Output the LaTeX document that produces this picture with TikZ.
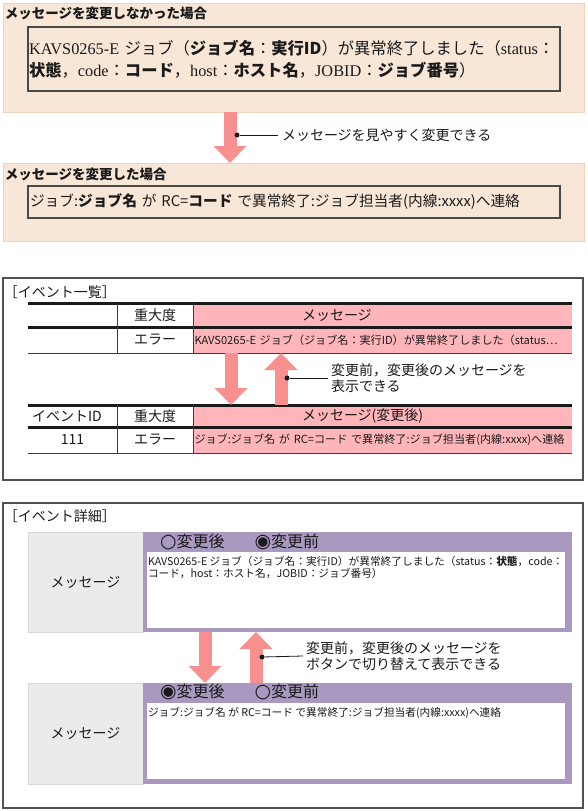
\documentclass[tikz,border=0pt]{standalone}
\usepackage{fontspec}
\setmainfont{Noto Sans CJK JP}
\newfontfamily\latinserif{Liberation Serif}
\newfontfamily\symfont{DejaVu Sans}
\usetikzlibrary{arrows.meta,positioning,calc}
\definecolor{beige}{HTML}{F8E6D7}
\definecolor{beigeline}{HTML}{F1D3BA}
\definecolor{salmon}{HTML}{F89090}
\definecolor{rowpink}{HTML}{FFB5B9}
\definecolor{lilac}{HTML}{A999C1}
\definecolor{cellgray}{HTML}{EBEBEB}
\definecolor{cellline}{HTML}{D9D9D9}
\definecolor{framegray}{HTML}{505050}
\definecolor{ink}{HTML}{1A1A1A}
\tikzset{
  >=Latex,
  every node/.style={text=ink,inner sep=0pt,outer sep=0pt},
  panel/.style={draw=beigeline,fill=beige,line width=1pt,anchor=north west},
  framebox/.style={draw=framegray,line width=1.2pt,anchor=north west},
  msgbox/.style={draw=ink!80,line width=1.2pt,anchor=north west,align=left},
  heading/.style={anchor=west,font=\fontsize{13.5}{16}\selectfont\bfseries},
  caption/.style={anchor=west,inner xsep=4pt,font=\fontsize{14}{16}\selectfont},
  callout/.style={anchor=west,align=left,inner xsep=3pt,font=\fontsize{14}{16.5}\selectfont},
  cell/.style={anchor=north west,font=\fontsize{14}{16}\selectfont},
  pinkcell/.style={cell,fill=rowpink},
  headtext/.style={text width=379pt,align=left},
  rowtext/.style={text width=376pt,inner xsep=1.5pt,align=left,font=\fontsize{11.1}{13}\selectfont},
  grayhead/.style={draw=cellline,fill=cellgray,anchor=north west,font=\fontsize{14}{16}\selectfont},
  lilacpane/.style={fill=lilac,anchor=north west},
  whitepane/.style={fill=white,anchor=north west,inner xsep=1pt,inner ysep=0pt},
  radio/.style={anchor=west,font=\fontsize{16}{18}\selectfont},
  bigarrow/.style={-{Triangle[length=17pt,width=32pt]},line width=13pt,draw=salmon},
  pointer/.style={draw=ink,line width=0.8pt},
  pointdot/.style={circle,fill=ink,minimum size=5pt},
  thickrule/.style={line width=3pt,draw=ink},
  thinrule/.style={line width=0.8pt,draw=ink!85},
}
\newcommand{\rb}[1]{{\symfont\fontsize{19}{19}\selectfont #1}}
\newcommand{\panetext}[1]{\parbox[b][76pt][t]{416pt}{\fontsize{10.7}{12.5}\selectfont\vspace{4pt}#1}}

\begin{document}
\begin{tikzpicture}[x=1pt,y=-1pt]
  \useasboundingbox (0,0) rectangle (587,811);

  % message as it was
  \node[panel,minimum width=581pt,minimum height=109pt] (before) at (3,3) {};
  \node[heading] (beforetitle) at (5,13) {メッセージを変更しなかった場合};
  \node[msgbox,minimum width=532pt,minimum height=64pt,text width=530pt,inner xsep=1pt,font=\fontsize{16.3}{22}\selectfont] (oldmsg) at (28,27)
    {{\latinserif KAVS0265-E }ジョブ（\textbf{ジョブ名}：\textbf{実行ID}）が異常終了しました（{\latinserif status}：\\
     \textbf{状態}，{\latinserif code}：\textbf{コード}，{\latinserif host}：\textbf{ホスト名}，{\latinserif JOBID}：\textbf{ジョブ番号}）};

  % message after the change
  \node[panel,minimum width=581pt,minimum height=78pt] (after) at (3,163) {};
  \node[heading] (aftertitle) at (5,174) {メッセージを変更した場合};
  \node[msgbox,minimum width=532pt,minimum height=32pt,text width=528pt,inner xsep=2pt,font=\fontsize{14.7}{16}\selectfont] (newmsg) at (28,186)
    {ジョブ:\textbf{ジョブ名} が RC=\textbf{コード} で異常終了:ジョブ担当者(内線:xxxx)へ連絡};

  \coordinate (a1) at (230,0);
  \draw[bigarrow] (before.south -| a1) -- (after.north -| a1);
  \node[pointdot] (dot1) at (237,135) {};
  \node[caption] (note1) at (278,135) {メッセージを見やすく変更できる};
  \draw[pointer] (dot1) -- (note1.west);

  % event list
  \node[framebox,minimum width=580pt,minimum height=202pt] (list) at (3,278) {};
  \node[caption,inner xsep=0pt] (listtitle) at (4,292) {［イベント一覧］};

  \node[cell,minimum width=89pt,minimum height=24pt] (t1h0) at (28,303) {};
  \node[cell,minimum width=76pt,minimum height=24pt] (t1h1) at (117,303) {重大度};
  \node[pinkcell,minimum width=379pt,minimum height=24pt,headtext] (t1h2) at (193,303) {\hspace*{109pt}メッセージ};
  \node[cell,minimum width=89pt,minimum height=26pt] (t1r0) at (28,327) {};
  \node[cell,minimum width=76pt,minimum height=26pt] (t1r1) at (117,327) {エラー};
  \node[pinkcell,minimum width=379pt,minimum height=26pt,rowtext] (t1r2) at (193,327)
    {KAVS0265-E ジョブ（ジョブ名：実行ID）が異常終了しました（status…};
  \draw[thickrule] (t1h0.north west) -- (t1h2.north east);
  \draw[thickrule] (t1r0.north west) -- (t1r2.north east);
  \draw[thinrule] (t1r0.south west) -- (t1r2.south east);
  \draw[thinrule] (t1h1.north west) -- (t1r1.south west);
  \draw[thinrule] (t1h2.north west) -- (t1r2.south west);

  \node[cell,minimum width=89pt,minimum height=22pt,text width=81pt,inner xsep=4pt,align=left] (t2h0) at (28,405) {イベントID};
  \node[cell,minimum width=76pt,minimum height=22pt] (t2h1) at (117,405) {重大度};
  \node[pinkcell,minimum width=379pt,minimum height=22pt,headtext] (t2h2) at (193,405) {\hspace*{109pt}メッセージ(変更後)};
  \node[cell,minimum width=89pt,minimum height=26pt,text width=69pt,inner xsep=10pt,align=center] (t2r0) at (28,427) {111};
  \node[cell,minimum width=76pt,minimum height=26pt] (t2r1) at (117,427) {エラー};
  \node[pinkcell,minimum width=379pt,minimum height=26pt,rowtext] (t2r2) at (193,427)
    {ジョブ:ジョブ名 が RC=コード で異常終了:ジョブ担当者(内線:xxxx)へ連絡};
  \draw[thickrule] (t2h0.north west) -- (t2h2.north east);
  \draw[thickrule] (t2r0.north west) -- (t2r2.north east);
  \draw[thinrule] (t2r0.south west) -- (t2r2.south east);
  \draw[thinrule] (t2h1.north west) -- (t2r1.south west);
  \draw[thinrule] (t2h2.north west) -- (t2r2.south west);

  \coordinate (a2) at (231,0);
  \coordinate (a3) at (281,0);
  \draw[bigarrow] (t1r0.south -| a2) -- (t2h0.north -| a2);
  \draw[bigarrow] (t2h0.north -| a3) -- (t1r0.south -| a3);
  \node[pointdot] (dot2) at (287,378) {};
  \node[callout] (note2) at (328,378) {変更前，変更後のメッセージを\\表示できる};
  \draw[pointer] (dot2) -- (note2.west);

  % event detail
  \node[framebox,minimum width=580pt,minimum height=305pt] (detail) at (3,503) {};
  \node[caption,inner xsep=0pt] (detailtitle) at (4,516) {［イベント詳細］};

  \node[grayhead,minimum width=115pt,minimum height=100pt] (oldlabel) at (28,532) {メッセージ};
  \node[lilacpane,minimum width=429pt,minimum height=100pt] (oldpane) at (143,532) {};
  \node[radio] (oldradio) at (160,542) {\rb{○}変更後\hspace{30pt}\rb{◉}変更前};
  \node[whitepane] (oldtext) at (147,552)
    {\panetext{KAVS0265-E ジョブ（ジョブ名：実行ID）が異常終了しました（status：\textbf{状態}，code：\\コード，host：ホスト名，JOBID：ジョブ番号）}};

  \node[grayhead,minimum width=115pt,minimum height=101pt] (newlabel) at (28,683) {メッセージ};
  \node[lilacpane,minimum width=429pt,minimum height=101pt] (newpane) at (143,683) {};
  \node[radio] (newradio) at (160,692) {\rb{◉}変更後\hspace{30pt}\rb{○}変更前};
  \node[whitepane] (newtext) at (147,703)
    {\panetext{ジョブ:ジョブ名 が RC=コード で異常終了:ジョブ担当者(内線:xxxx)へ連絡}};

  \coordinate (a4) at (205,0);
  \coordinate (a5) at (256,0);
  \draw[bigarrow] (oldpane.south -| a4) -- (newpane.north -| a4);
  \draw[bigarrow] (newpane.north -| a5) -- (oldpane.south -| a5);
  \node[pointdot] (dot3) at (262,657) {};
  \node[callout] (note3) at (303,656) {変更前，変更後のメッセージを\\ボタンで切り替えて表示できる};
  \draw[pointer] (dot3) -- (note3.west);
\end{tikzpicture}
\end{document}
